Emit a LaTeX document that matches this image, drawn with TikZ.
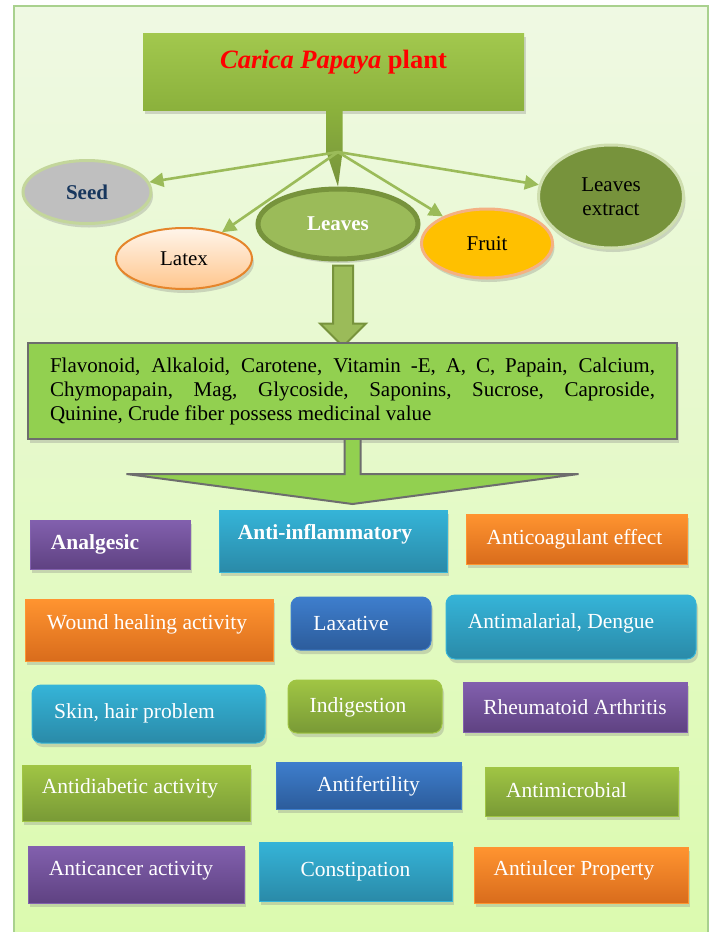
\documentclass[tikz,border=0pt]{standalone}
\usepackage{fontspec}
\setmainfont{Liberation Serif}
\usetikzlibrary{shapes.geometric,shadows,arrows.meta,calc}

\definecolor{frameline}{HTML}{A9D18E}
\definecolor{frametop}{HTML}{EFF9E3}
\definecolor{framebot}{HTML}{DBFAAE}
\definecolor{leafgreen}{HTML}{9BBB59}
\definecolor{darkleaf}{HTML}{77933C}
\definecolor{paleleaf}{HTML}{C3D69B}
\definecolor{limegreen}{HTML}{92D050}
\definecolor{greyline}{HTML}{6D6D6D}
\definecolor{seedgrey}{HTML}{BFBFBF}
\definecolor{seednavy}{HTML}{17365D}
\definecolor{titleT}{HTML}{A2C84E}
\definecolor{titleB}{HTML}{8BB13C}
\definecolor{purpleT}{HTML}{8260AE}
\definecolor{purpleB}{HTML}{5F4282}
\definecolor{cyanT}{HTML}{35B4D8}
\definecolor{cyanB}{HTML}{2A8AA8}
\definecolor{orangeT}{HTML}{FF9430}
\definecolor{orangeB}{HTML}{D96C1C}
\definecolor{blueT}{HTML}{3E7ECD}
\definecolor{blueB}{HTML}{2C5C9B}
\definecolor{greenT}{HTML}{A0C544}
\definecolor{greenB}{HTML}{799A36}

\tikzset{
  castshadow/.style={drop shadow={opacity=0.3, shadow xshift=2pt, shadow yshift=-4pt}},
  cell/.style 2 args={rectangle, minimum width=#1pt, minimum height=#2pt, inner sep=0pt, castshadow},
  purplecell/.style={top color=purpleT, bottom color=purpleB, draw=purpleT, line width=1pt},
  cyancell/.style={top color=cyanT, bottom color=cyanB, draw=cyanT, line width=1pt},
  orangecell/.style={top color=orangeT, bottom color=orangeB, draw=orangeT, line width=1pt},
  bluecell/.style={top color=blueT, bottom color=blueB, draw=blueT, line width=1pt},
  greencell/.style={top color=greenT, bottom color=greenB, draw=greenT, line width=1pt},
  softcorner/.style={rounded corners=9pt},
  lbl/.style={text=white, anchor=center, font=\fontsize{21.5}{25}\selectfont},
  blob/.style={ellipse, inner sep=0pt, castshadow, align=center, font=\fontsize{21}{24}\selectfont},
  twig/.style={leafgreen, line width=2.6pt, -{Triangle[length=14pt,width=14pt]}}
}

\begin{document}
\begin{tikzpicture}[x=1pt,y=-1pt]
  \useasboundingbox (0,0) rectangle (716,932);
  % frame
  \path[draw=frameline, line width=2.5pt, top color=frametop, bottom color=framebot] (14,6) rectangle (708,950);

  % plant and its parts
  \node[cell={381}{77}, top color=titleT, bottom color=titleB,
        label={[anchor=center, yshift=9pt, text=red, font=\fontsize{26.5}{30}\selectfont\bfseries]center:{\textit{Carica Papaya} plant}}] (title) at (333.5,71.5) {};
  \node[blob, minimum width=128pt, minimum height=63pt, fill=seedgrey, draw=paleleaf, line width=3pt,
        text=seednavy, font=\fontsize{21}{24}\selectfont\bfseries] (seed) at (87,192) {Seed};
  \node[blob, minimum width=136pt, minimum height=61pt, top color=orange!8, bottom color=orange!45!white,
        draw=orangeT!90!black, line width=2pt] (latex) at (184,258.5) {Latex};
  \node[blob, minimum width=160pt, minimum height=70pt, fill=leafgreen, draw=darkleaf, line width=5pt,
        text=white, font=\fontsize{21}{24}\selectfont\bfseries] (leaves) at (338,224) {Leaves};
  \node[blob, minimum width=131pt, minimum height=69pt, fill={rgb,255:red,255;green,192;blue,0},
        draw={rgb,255:red,244;green,177;blue,131}, line width=3pt] (fruit) at (487,243.5) {Fruit};
  \node[blob, minimum width=145pt, minimum height=103pt, fill=darkleaf, draw=paleleaf!80!white,
        line width=3pt] (extract) at (611,196.5) {Leaves\\extract};

  % stem and branches
  \path[top color=titleB, bottom color=darkleaf] ($(title.south)+(-7,0)$) -- ++(16,0) -- ++(0,42)
        -- (leaves.north) -- ($(title.south)+(-7,42)$) -- cycle;
  \coordinate (hub) at (338,152);
  \draw[twig] (hub) -- (seed);
  \draw[twig] (hub) -- (latex);
  \draw[twig] (hub) -- (fruit);
  \draw[twig] (hub) -- (extract);

  % leaves to contents
  \path[fill=leafgreen, draw=darkleaf, line width=2pt, line join=miter] ($(leaves.south)+(-5,4)$)
        -- ++(20,0) -- ++(0,58) -- ++(13,0) -- ++(-23,23) -- ++(-23,-23) -- ++(13,0) -- cycle;
  \node[rectangle, fill=limegreen, draw=greyline, line width=2pt, castshadow, inner xsep=22pt,
        minimum height=96pt, text width=605pt, align=justify, font=\fontsize{21}{24}\selectfont] (facts) at (352.5,391)
        {Flavonoid, Alkaloid, Carotene, Vitamin -E, A, C, Papain, Calcium,\linebreak
         Chymopapain, Mag, Glycoside, Saponins, Sucrose, Caproside,\linebreak
         Quinine, Crude fiber possess medicinal value};

  % contents to uses
  \path[fill=limegreen, draw=greyline, line width=2pt, line join=miter] ($(facts.south)+(-8,0)$)
        -- ++(0,34) -- ++(-218,0) -- ++(226,30) -- ++(226,-30) -- ++(-218,0) -- ++(0,-34);

  % uses
  \node[cell={160}{49}, purplecell, label={[lbl, font=\fontsize{21.5}{25}\selectfont\bfseries, xshift=-15pt]center:Analgesic}] (analgesic) at (110,544.5) {};
  \node[cell={228}{62}, cyancell, label={[lbl, font=\fontsize{21.5}{25}\selectfont\bfseries, xshift=-8pt, yshift=7pt]center:Anti-inflammatory}] (antiinflam) at (333,541) {};
  \node[cell={221}{50}, orangecell, label={[lbl, xshift=-2pt]center:Anticoagulant effect}] (anticoag) at (576.5,539) {};

  \node[cell={248}{62}, orangecell, label={[lbl, xshift=-2pt, yshift=6pt]center:Wound healing activity}] (wound) at (149,630) {};
  \node[cell={140}{53}, bluecell, softcorner, label={[lbl, xshift=-10pt]center:Laxative}] (laxative) at (361,623.5) {};
  \node[cell={250}{64}, cyancell, softcorner, label={[lbl, xshift=-10pt, yshift=4pt]center:{Antimalarial, Dengue}}] (antimal) at (571,627) {};

  \node[cell={233}{58}, cyancell, softcorner, label={[lbl, xshift=-14pt, yshift=1pt]center:{Skin, hair problem}}] (skin) at (148.5,714) {};
  \node[cell={154}{53}, greencell, softcorner, label={[lbl, xshift=-7pt, yshift=-1pt]center:Indigestion}] (indigest) at (365,706.5) {};
  \node[cell={224}{50}, purplecell, label={[lbl]center:Rheumatoid Arthritis}] (rheuma) at (575,707) {};

  \node[cell={228}{56}, greencell, label={[lbl, xshift=-6pt, yshift=5pt]center:Antidiabetic activity}] (antidiab) at (136,793) {};
  \node[cell={185}{47}, bluecell, label={[lbl, yshift=-1pt]center:Antifertility}] (antifert) at (368.5,785.5) {};
  \node[cell={193}{49}, greencell, label={[lbl, xshift=-15pt, yshift=1pt]center:Antimicrobial}] (antimicro) at (581.5,791.5) {};

  \node[cell={216}{57}, purplecell, label={[lbl, xshift=-5pt, yshift=4pt]center:Anticancer activity}] (anticancer) at (136,874.5) {};
  \node[cell={193}{59}, cyancell, label={[lbl]center:Constipation}] (constip) at (355.5,871.5) {};
  \node[cell={214}{56}, orangecell, label={[lbl, xshift=-7pt, yshift=5pt]center:Antiulcer Property}] (antiulcer) at (581,875) {};
\end{tikzpicture}
\end{document}
